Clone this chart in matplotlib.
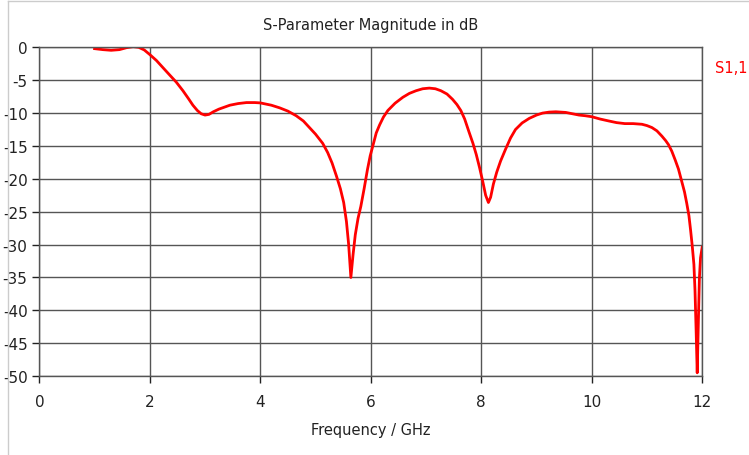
import matplotlib.pyplot as plt
from matplotlib.lines import Line2D

# S1,1 magnitude
freq_ghz = [1.00, 1.15, 1.30, 1.45, 1.58, 1.70, 1.80, 1.90, 2.00, 2.12, 2.25, 2.37, 2.48,
            2.60, 2.70, 2.78, 2.86, 2.93, 3.00, 3.07, 3.15, 3.25, 3.45, 3.60, 3.75, 3.90,
            4.00, 4.20, 4.35, 4.50, 4.65, 4.78, 4.89, 5.00, 5.13, 5.22, 5.30, 5.38, 5.45,
            5.51, 5.56, 5.60, 5.64, 5.68, 5.72, 5.77, 5.82, 5.88, 5.94, 5.99, 6.05, 6.10,
            6.16, 6.23, 6.31, 6.44, 6.58, 6.70, 6.82, 6.94, 7.06, 7.17, 7.27, 7.38, 7.48,
            7.56, 7.63, 7.70, 7.78, 7.85, 7.91, 7.97, 8.03, 8.08, 8.13, 8.17, 8.22, 8.28,
            8.35, 8.44, 8.53, 8.62, 8.74, 8.87, 9.00, 9.11, 9.23, 9.35, 9.53, 9.65, 9.77,
            9.88, 10.00, 10.15, 10.31, 10.45, 10.60, 10.75, 10.91, 11.00, 11.09, 11.18,
            11.27, 11.34, 11.39, 11.45, 11.51, 11.57, 11.63, 11.68, 11.72, 11.76, 11.79,
            11.82, 11.85, 11.87, 11.89, 11.91, 11.93, 11.95, 11.97, 12.00]
s11_db = [-0.2, -0.35, -0.45, -0.35, -0.05, 0.1, 0.0, -0.4, -1.1, -2.0, -3.2, -4.3, -5.3,
          -6.6, -7.8, -8.8, -9.6, -10.1, -10.3, -10.2, -9.8, -9.4, -8.8, -8.55, -8.4, -8.4,
          -8.45, -8.8, -9.2, -9.7, -10.4, -11.2, -12.2, -13.2, -14.6, -16.0, -17.6, -19.6,
          -21.5, -23.6, -26.5, -30.0, -35.0, -31.5, -28.5, -26.0, -24.2, -21.5, -18.6,
          -16.5, -14.6, -13.0, -11.8, -10.6, -9.6, -8.5, -7.6, -7.0, -6.6, -6.3, -6.2,
          -6.3, -6.6, -7.1, -7.9, -8.7, -9.6, -10.9, -12.9, -14.6, -16.3, -18.3, -20.5,
          -22.5, -23.6, -22.8, -20.8, -19.0, -17.3, -15.5, -13.8, -12.5, -11.5, -10.8,
          -10.3, -10.0, -9.85, -9.8, -9.9, -10.1, -10.3, -10.4, -10.55, -10.9, -11.2,
          -11.45, -11.6, -11.6, -11.7, -11.9, -12.2, -12.7, -13.5, -14.2, -14.8, -15.8,
          -17.1, -18.5, -20.4, -22.0, -23.7, -25.6, -27.8, -30.2, -33.0, -37.0, -43.0,
          -49.5, -42.0, -35.0, -32.0, -30.4]

x_ticks = [0, 2, 4, 6, 8, 10, 12]
y_ticks = list(range(0, -55, -5))

fig = plt.figure(figsize=(7.49, 4.56), dpi=100)
ax = fig.add_axes([0.0525, 0.173, 0.885, 0.721])

ax.plot(freq_ghz, s11_db, color='#ff0000', linewidth=2)

ax.set_xlim(0, 12)
ax.set_ylim(-50, 0)
ax.set_xticks(x_ticks)
ax.set_yticks(y_ticks)
ax.set_xticklabels([str(t) for t in x_ticks])
ax.set_yticklabels([str(t) for t in y_ticks])
ax.tick_params(axis='both', labelsize=11, colors='#222222', length=5, width=1, direction='out')
ax.tick_params(axis='x', pad=8)

ax.grid(True, color='#555555', linewidth=1)
for sp in ax.spines.values():
    sp.set_color('#555555')
    sp.set_linewidth(1)

ax.set_title('S-Parameter Magnitude in dB', fontsize=10.5, color='#222222', pad=13)
ax.set_xlabel('Frequency / GHz', fontsize=10.5, color='#222222', labelpad=9)

fig.text(0.998, 0.85, 'S1,1', color='#ff0000', fontsize=10.5, ha='right', va='center')

# light frame of the original window
fig.add_artist(Line2D([0.011, 0.011], [0, 0.996], color='#cccccc', linewidth=1))
fig.add_artist(Line2D([0.011, 1], [0.996, 0.996], color='#cccccc', linewidth=1))

fig.savefig('out.png', dpi=100)
